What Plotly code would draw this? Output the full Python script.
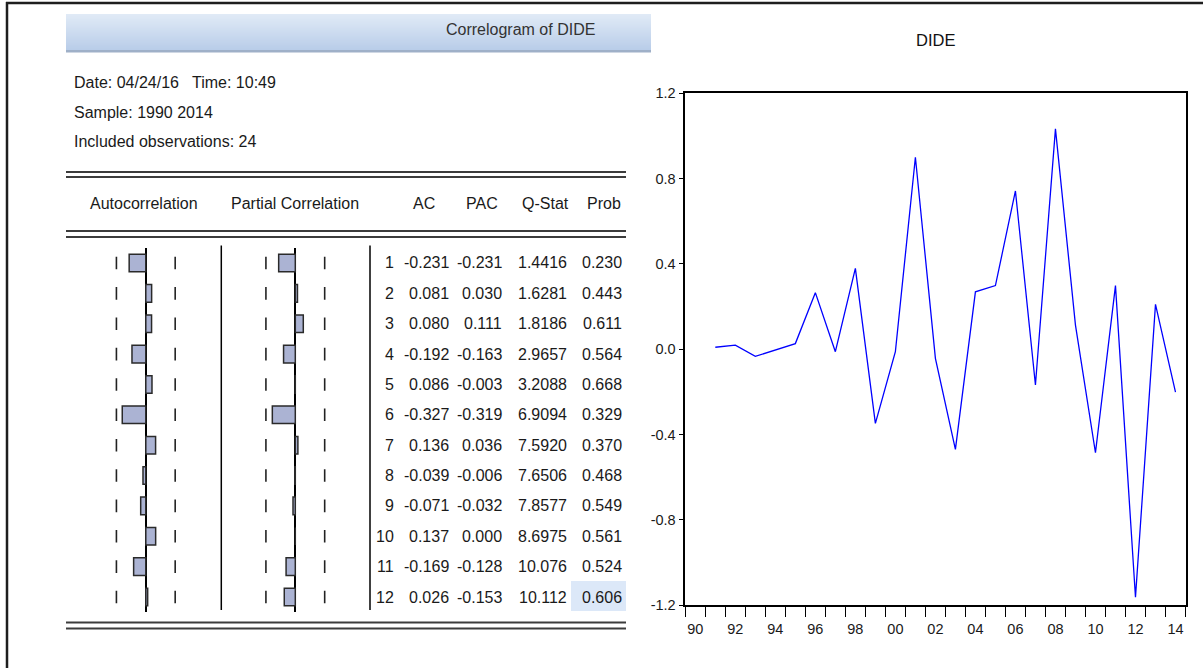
import plotly.graph_objects as go

# ---- correlogram data (lags 1..12) ----
lags = list(range(1, 13))
ac = [-0.231, 0.081, 0.080, -0.192, 0.086, -0.327, 0.136, -0.039, -0.071, 0.137, -0.169, 0.026]
pac = [-0.231, 0.030, 0.111, -0.163, -0.003, -0.319, 0.036, -0.006, -0.032, 0.000, -0.128, -0.153]
qstat = ["1.4416", "1.6281", "1.8186", "2.9657", "3.2088", "6.9094",
         "7.5920", "7.6506", "7.8577", "8.6975", "10.076", "10.112"]
prob = [0.230, 0.443, 0.611, 0.564, 0.668, 0.329, 0.370, 0.468, 0.549, 0.561, 0.524, 0.606]
n_obs = 24
ci_bound = 0.408  # approx. 2/sqrt(n_obs)

# ---- DIDE series ----
years = list(range(1991, 2015))
dide = [0.009, 0.019, -0.034, -0.004, 0.026, 0.265, -0.012, 0.379, -0.348, -0.012,
        0.900, -0.043, -0.470, 0.269, 0.298, 0.742, -0.168, 1.033, 0.113, -0.486,
        0.298, -1.164, 0.210, -0.202]
label_years = list(range(1990, 2015, 2))
label_text = [f"{y % 100:02d}" for y in label_years]
y_ticks = [-1.2, -0.8, -0.4, 0.0, 0.4, 0.8, 1.2]
y_text = [f"{v:.1f}" for v in y_ticks]

W, H = 1203, 668
FONT = "Liberation Sans, Arial, Helvetica, sans-serif"
TXT = "#1a1a1a"
TS = 16  # table text size


def px(x):
    return x / W


def py(y):
    return 1 - y / H


fig = go.Figure()

# line chart
fig.add_trace(go.Scatter(x=years, y=dide, mode="lines",
                         line=dict(color="#0000ff", width=1.3),
                         xaxis="x", yaxis="y", hoverinfo="x+y"))

# autocorrelation / partial correlation bars
bar_style = dict(orientation="h", width=0.58,
                 marker=dict(color="#abb3d3", line=dict(color="#2a2a2a", width=1.5)))
fig.add_trace(go.Bar(x=ac, y=lags, xaxis="x2", yaxis="y2", **bar_style))
fig.add_trace(go.Bar(x=pac, y=lags, xaxis="x3", yaxis="y3", **bar_style))

# confidence-band dashes
for xa, ya in (("x2", "y2"), ("x3", "y3")):
    fig.add_trace(go.Scatter(
        x=[-ci_bound] * len(lags) + [ci_bound] * len(lags), y=lags + lags,
        mode="markers", xaxis=xa, yaxis=ya,
        marker=dict(symbol="line-ns", size=9, line=dict(color="#222", width=1.6)),
        hoverinfo="skip"))

rows_top, rows_bot = 247.8, 612.2
zero_ac, zero_pac, scale = 145.8, 295.3, 72.0
half = 0.65 * scale

hidden_y = dict(domain=[py(rows_bot), py(rows_top)], range=[12.5, 0.5], visible=False,
                automargin=False)


def bar_x(zero, anchor):
    return dict(domain=[px(zero - half), px(zero + half)], range=[-0.65, 0.65],
                anchor=anchor, showticklabels=False, ticks="", showgrid=False,
                zeroline=True, zerolinecolor="black", zerolinewidth=1.5, showline=False,
                automargin=False)


fig.update_layout(
    width=W, height=H, margin=dict(l=0, r=0, t=0, b=0, pad=0, autoexpand=False),
    paper_bgcolor="white", plot_bgcolor="white", showlegend=False,
    font=dict(family=FONT, color=TXT, size=TS),
    xaxis=dict(domain=[px(685.3), px(1185.5)], range=[1989.5, 2014.5], automargin=False,
               tickmode="array", tickvals=label_years, ticktext=label_text,
               ticks="outside", ticklen=10, tickcolor="rgba(0,0,0,0)",
               tickfont=dict(size=14.5, color=TXT),
               minor=dict(ticks="outside", ticklen=10, tickcolor="black", tickwidth=1.3,
                          tickmode="linear", tick0=1989.5, dtick=1, showgrid=False),
               showline=True, linecolor="black", linewidth=1.5, mirror=True,
               showgrid=False, zeroline=False),
    yaxis=dict(domain=[py(605), py(93.3)], range=[-1.2, 1.2], automargin=False,
               tickmode="array", tickvals=y_ticks, ticktext=y_text,
               ticks="outside", ticklen=5, tickcolor="black", tickwidth=1.3,
               tickfont=dict(size=14.5, color=TXT),
               showline=True, linecolor="black", linewidth=1.5, mirror=True,
               showgrid=False, zeroline=False),
    xaxis2=bar_x(zero_ac, "y2"),
    yaxis2=dict(anchor="x2", **hidden_y),
    xaxis3=bar_x(zero_pac, "y3"),
    yaxis3=dict(anchor="x3", **hidden_y),
)

shapes = []
# window frame
shapes.append(dict(type="line", xref="paper", yref="paper", x0=px(6), x1=1, y0=py(3), y1=py(3),
                   line=dict(color="#1e1e1e", width=2.5)))
shapes.append(dict(type="line", xref="paper", yref="paper", x0=px(7), x1=px(7), y0=py(2), y1=0,
                   line=dict(color="#1e1e1e", width=2.5)))
# title bar with vertical gradient
top, bot = 14, 50
c0, c1 = (224, 234, 246), (185, 205, 233)
steps = bot - top
for i in range(steps):
    t = i / (steps - 1)
    c = tuple(round(a + (b - a) * t) for a, b in zip(c0, c1))
    shapes.append(dict(type="rect", xref="paper", yref="paper", x0=px(66), x1=px(651),
                       y0=py(top + i + 1), y1=py(top + i), line=dict(width=0),
                       fillcolor=f"rgb{c}", layer="below"))
shapes.append(dict(type="rect", xref="paper", yref="paper", x0=px(66), x1=px(651),
                   y0=py(52.5), y1=py(50), line=dict(width=0), fillcolor="#9fb0c8"))
# double rules
for ya, yb in ((172, 177), (231, 237), (622.5, 628.5)):
    for yy in (ya, yb):
        shapes.append(dict(type="line", xref="paper", yref="paper", x0=px(66), x1=px(626),
                           y0=py(yy), y1=py(yy), line=dict(color="#3c3c3c", width=2.2)))
# column separators
for xx in (221.3, 370):
    shapes.append(dict(type="line", xref="paper", yref="paper", x0=px(xx), x1=px(xx),
                       y0=py(245.5), y1=py(610), line=dict(color="black", width=1.5)))
# selected cell highlight
shapes.append(dict(type="rect", xref="paper", yref="paper", x0=px(571), x1=px(626),
                   y0=py(611), y1=py(581), line=dict(width=0), fillcolor="#dce8f8", layer="below"))
fig.update_layout(shapes=shapes)

ann = []


def text(x, y, s, anchor="left", size=TS, color=TXT):
    ann.append(dict(x=px(x), y=py(y), xref="paper", yref="paper", text=s, showarrow=False,
                    xanchor=anchor, yanchor="middle", font=dict(size=size, color=color, family=FONT)))


text(597, 30, "Correlogram of DIDE", "right", 16, "#333")
text(72, 82, "Date: 04/24/16   Time: 10:49")
text(72, 112, "Sample: 1990 2014")
text(72, 142, f"Included observations: {n_obs}")
text(144, 203, "Autocorrelation", "center")
text(295, 203, "Partial Correlation", "center")
text(424, 203, "AC", "center")
text(482, 203, "PAC", "center")
text(545, 203, "Q-Stat", "center")
text(604, 203, "Prob", "center")
text(936, 40, "DIDE", "center", 16.5, "#111")

cols = [(395.5, [str(l) for l in lags]),
        (450.5, [f"{v:.3f}" for v in ac]),
        (504.0, [f"{v:.3f}" for v in pac]),
        (569.0, qstat),
        (624.0, [f"{v:.3f}" for v in prob])]
for xr, vals in cols:
    for lag, s in zip(lags, vals):
        ann.append(dict(x=px(xr), y=lag, xref="paper", yref="y2", text=s, showarrow=False,
                        xanchor="right", yanchor="middle", font=dict(size=TS, color=TXT, family=FONT)))
fig.update_layout(annotations=ann)

fig.write_html("out.html")
